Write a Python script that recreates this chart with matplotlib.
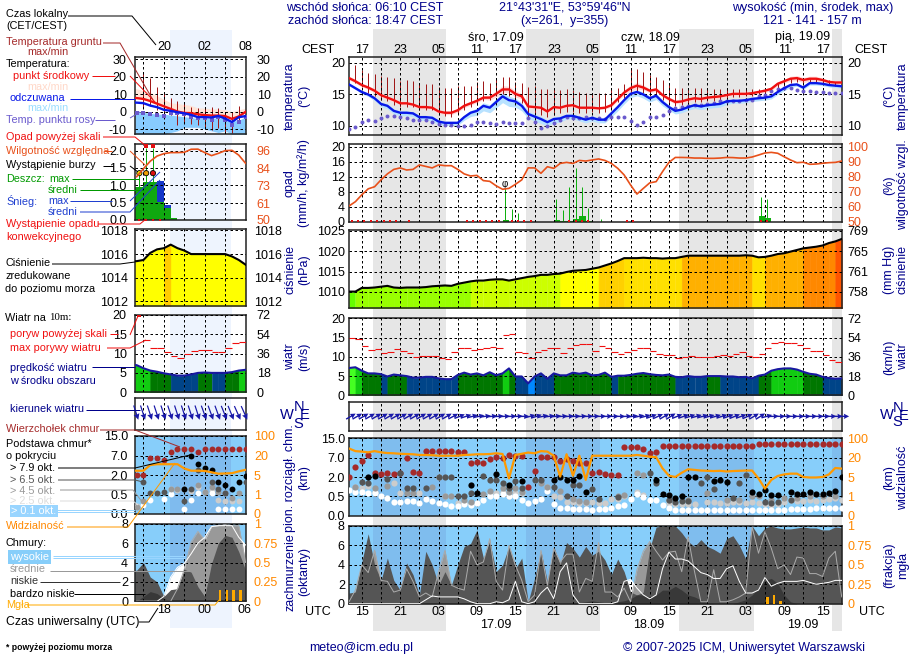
import numpy as np
import matplotlib
matplotlib.use("Agg")
import matplotlib.pyplot as plt

plt.rcParams['font.family'] = ['Liberation Sans', 'DejaVu Sans']
plt.rcParams['font.size'] = 9

W, H = 910, 660

# ---- main meteogram, one value per hour from 13 UTC 16.09
temp = [17.6,17.1,16.5,16.1,15.6,14.9,14.5,14.1,13.6,13.6,
        13.4,13.0,13.0,12.9,12.3,12.1,12.1,12.5,13.2,13.6,
        14.0,14.5,14.5,15.1,15.8,15.8,15.1,14.7,13.1,13.0,
        12.9,12.3,13.0,12.9,13.2,13.3,12.9,12.9,12.9,12.8,
        12.9,13.3,14.3,15.3,16.0,16.4,16.1,15.6,15.8,14.9,
        14.3,13.8,13.9,14.2,14.4,14.3,14.5,14.6,14.7,14.9,
        15.1,15.1,15.1,15.2,15.4,15.6,15.9,16.7,17.1,17.5,
        17.6,17.3,17.5,17.5,17.3,17.0,16.9,16.9]
feel = [16.6,16.0,15.4,15.0,14.4,13.5,13.2,12.4,12.1,12.1,
        12.0,11.4,11.4,11.3,10.7,10.5,10.5,10.5,11.4,12.1,
        12.4,13.2,12.9,13.8,14.7,14.1,13.9,13.2,11.9,11.5,
        11.1,10.6,11.1,11.2,11.6,11.6,11.3,11.0,11.3,11.0,
        11.0,12.0,13.0,14.1,15.1,15.4,15.0,14.4,14.8,13.8,
        13.0,12.4,12.6,13.0,13.3,13.1,13.3,13.4,13.5,13.9,
        14.0,14.0,14.1,14.3,14.4,14.5,14.7,15.4,16.0,16.5,
        16.6,16.1,16.8,16.8,16.7,16.5,16.4,16.3]
dew = [9.6,9.9,10.7,11.0,10.8,11.2,11.6,11.6,11.5,11.3,
       11.0,11.0,11.0,10.6,10.3,10.2,10.2,10.0,10.0,10.2,
       10.6,10.6,10.4,10.3,10.7,10.5,10.4,10.4,11.2,10.6,
       9.7,10.0,10.4,11.0,11.5,11.2,11.2,11.4,11.2,11.2,
       11.1,11.4,11.5,11.5,10.8,10.2,10.7,11.4,11.5,11.7,
       12.4,12.8,13.0,13.1,13.3,13.3,13.5,13.6,13.9,13.9,
       14.0,14.0,14.1,14.2,14.7,14.9,15.6,15.8,16.1,16.0,
       15.7,15.6,15.5,15.4,15.4,15.3,15.3,15.3]
ground_max = [17.6,19.6,18.9,18.4,18.3,17.9,17.7,17.6,17.2,17.3,
              17.1,16.7,16.7,16.6,16.2,16.1,16.1,16.3,16.3,16.3,
              17.0,17.2,16.8,17.4,17.7,17.7,17.0,16.8,16.2,16.3,
              15.8,15.8,15.8,15.7,15.8,15.7,15.4,15.3,15.3,15.2,
              15.3,15.8,16.0,16.7,19.0,19.0,18.5,18.1,17.8,17.3,
              16.8,16.1,16.1,16.1,16.1,16.0,15.8,15.8,15.8,15.8,
              15.8,15.8,15.8,15.8,15.8,15.8,16.0,16.8,17.3,17.6,
              17.8,17.6,17.5,17.5,17.5,17.3,17.0,17.0]
ground_min = [17.6,16.8,16.2,15.2,14.8,14.2,14.0,13.4,13.0,13.0,
              13.0,12.5,12.5,12.5,11.8,11.6,11.5,12.0,12.6,13.0,
              13.4,14.0,14.2,14.8,15.0,14.8,14.0,13.6,11.2,12.0,
              11.8,11.4,11.8,12.0,12.2,12.2,12.0,12.0,12.2,12.0,
              12.2,12.8,13.8,14.4,15.2,15.5,15.2,14.8,14.8,14.2,
              13.6,13.2,13.4,13.6,13.8,13.8,14.0,14.0,14.2,14.4,
              14.6,14.6,14.7,14.8,15.0,15.2,15.4,16.0,16.4,16.8,
              17.0,16.8,16.9,16.9,16.8,16.6,16.4,16.4]
temp_spread = [.3,.3,.3,.3,.3,.3,.3,.3,.3,.3,
               .3,.3,.3,.3,.3,.3,.3,.3,.3,.3,
               .3,.3,.4,.5,.6,.5,.5,.4,.3,.3,
               .3,.3,.3,.3,.3,.3,.2,.2,.2,.2,
               .2,.3,.3,.4,.5,.5,.4,.3,.3,.3,
               .3,.3,.3,.3,.3,.3,.3,.3,.3,.3,
               .3,.3,.3,.3,.3,.3,.3,.3,.3,.4,
               .4,.4,.4,.4,.3,.3,.3,.3]
feel_spread = [.2,.2,.3,.3,.4,.4,.5,.5,.5,.5,
               .5,.5,.5,.5,.5,.4,.4,.4,.5,.6,
               .7,.8,.8,.9,1.0,1.0,.9,.8,.7,.7,
               .7,.6,.6,.6,.5,.5,.5,.5,.5,.5,
               .5,.6,.6,.6,.6,.6,.6,.6,.6,.6,
               .5,.5,.5,.5,.5,.5,.5,.5,.5,.5,
               .4,.4,.4,.4,.4,.4,.4,.4,.4,.4,
               .3,.3,.3,.3,.3,.3,.3,.3]
humidity = [60.5,63.4,68,72,73.4,78,82,85,86,84.6,
            85,88,87,86,88,87.5,87.5,85,82,80.6,
            81,77.5,77,74,71.7,72.3,75,78,86,86,
            82.4,86.8,85.7,89,89.7,89,91,90.6,91.3,92,
            91,89,85.7,81.3,74.6,68.5,72.3,76,76.8,83.5,
            89.7,93,93,92.9,92.6,92.6,92.4,92.4,92.6,93,
            92.9,92.6,92.6,93.3,94.6,96,96.4,95.8,93.5,91.3,
            89.5,89.8,88.4,88.6,89.1,89.5,89.7,90.6]
precip_hours = [24,25,26,32,33,34,35,36,37,39,64,65]
precip_max = [8.9,3.3,2.2,6,3,9.2,14.5,9.2,3.6,.6,6.7,6]
precip_mean = [.4,0,0,.4,.3,.2,.7,1.5,.1,0,1.5,1]
convective_hours = [0,1,2,3,4,5,6,7,9,18,19,20,21,22,23,25,26,27,28,34,35,36,37,43,44,64,65]
pressure = [1010.1,1010.1,1011,1011,1011.1,1011.3,1011.5,1011.1,1011,1011.1,
            1011.1,1011.1,1011.2,1011.4,1011.5,1011.6,1011.5,1012,1012.3,1012.6,
            1012.8,1012.8,1013,1013.1,1013.1,1012.8,1013.1,1013.4,1013.7,1013.9,
            1014.2,1014.2,1014.4,1014.5,1014.9,1015.2,1015.3,1015.4,1015.7,1016,
            1016.5,1017,1017.6,1018.3,1018.3,1018.3,1018.4,1018.3,1018.3,1018.2,
            1018.3,1018.3,1018.6,1018.9,1018.9,1018.9,1018.9,1018.9,1018.9,1018.9,
            1018.9,1018.9,1019,1018.9,1018.5,1018.6,1018.9,1019.3,1019.5,1019.9,
            1020.3,1020.7,1020.9,1021.1,1021.4,1022,1022.4,1023]
pressure_bin = [0,1,1,1,1,1,1,1,1,1,1,1,1,1,1,1,1,1,1,2,2,2,2,2,2,2,2,2,2,2,2,2,2,
                3,3,3,3,3,3,4,4,4,4,5,5,5,5,5,5,5,5,5,6,6,6,6,6,6,6,6,6,6,6,5,5,
                6,6,6,6,6,6,7,7,7,7,7,8]
pressure_colors = ['#66ff00','#99ff00','#ccff00','#ffff00','#ffd000','#ffe000','#ffb000','#ff8800','#ff5500']
wind = [7.1,7.3,6.4,5.7,5.7,5.5,4.9,5.4,5.2,5.0,
        4.6,4.6,4.8,4.8,4.4,4.2,4.2,5.3,5.9,5.4,
        5.7,5.2,6.0,5.2,5.7,7.0,4.9,4.9,3.1,4.9,
        5.7,4.3,5.7,5.2,5.2,5.9,5.6,5.9,5.2,
        5.3,5.9,4.8,5.1,5.1,5.3,5.6,5.8,5.5,5.3,
        5.2,5.4,4.8,4.7,5,4.8,4.8,5,5,5,
        4.9,4.9,4.7,4.8,4.4,5.1,5.4,6.4,6.8,7,
        7,6.7,6.1,5.6,5.4,4.8,4.5,4.3,4.4]
wind_bin = [4,3,2,2,2,1,2,2,2,1,1,1,1,1,1,1,1,2,2,2,2,2,2,2,3,2,1,1,0,1,1,1,
            2,2,2,2,2,2,2,2,2,1,2,2,2,2,2,2,2,2,2,1,1,1,1,1,2,2,1,1,1,1,1,1,
            2,2,3,3,3,3,3,2,2,2,1,1,1]
wind_colors = ['#0088ff','#004488','#007700','#11cc11','#44ff22']
gust = [14.9,14.6,12.8,11.7,12,10.9,11.3,12,11.5,11,
        9.9,10.3,10.2,10.2,9.7,9.4,11.2,12.3,12.3,11.7,
        12,12.3,12.6,12.3,15.7,15.9,11.2,11,9.7,11.2,
        11.7,12.3,12.3,11,12.3,13,13.3,13.3,11.5,
        12.8,12.3,11.4,10.8,11.4,11.9,12.4,12.4,11.6,10.8,
        10.5,10.5,9.8,10,10.3,10.1,10.1,10.1,10.3,10.5,
        10.3,10.8,11.2,10.3,10.1,10.8,12.4,13.7,14,13.7,
        13.7,13.2,12.4,11.6,11.6,10.5,9.1,8.6]
wind_angle = [30,30,30,30,30,30,30,30,30,30,30,30,30,30,30,30,28,22,18,15,12,8,6,5,3,3,3,2,
              15,18,12,8,6,5,5,4,4,3,3,2,2,0,0,3,8,12,15,20,25,30,32,
              22,20,18,16,15,15,16,18,20,22,20,25,30,32,15,2,0,0,0,0,0,0,0,0,0,0,0]

cloud_top = [2,4.7,6.2,8.1,2.95,2.7,3.1,2.7,3.1,6.8,3.4,3.1,9.7,9.7,9.7,9.7,9.7,9.2,9.2,5.5,
             5.95,5.7,6.6,7.4,7,8.1,7.8,7.8,1.2,3.5,7.4,7.4,7.4,6.2,6.6,6.2,5.7,5.5,2.95,3.4,
             2.8,2.5,2.5,11.2,11.2,11.2,10.4,9.1,9.5,12,12,12,12,12,12,12,12,12,12,12,
             12,12,12,12,12.7,12.7,12.7,12.7,12.7,12.7,12.7,12.7,12.7,12.7,12.7,12.7,12.7,12.7]
base79_hours = [3,4,19,20,23,25,27,32,33,34,35,36,37,48,49,50,51,52,53,54,57,58,59,63,64,65,66,67,69,70,71,72,73,74,75,76,77]
base79 = [1.97,2.25,1.38,.79,2.7,1.38,1.7,1.8,2,1.8,1.8,2.35,.8,1.8,.68,.6,.47,.53,2,2,1.7,1.8,1.6,.8,.7,1,.6,.6,.8,.7,.7,.8,.7,.7,.73,.9,2]
base65_hours = [2,3,6,8,9,10,12,14,15,16,17,18,19,21,22,23,24,25,26,27,29,30,32,34,35,36,38,39,42,47,48,50,51,52,53,55,56,57,60,61,62,65,66,67,69]
base65 = [1.64,1.55,1.82,3,1.17,1.17,1.17,2,2,2,.55,.55,.73,2.25,1.8,1.77,1.55,1.17,1.7,1.17,1.8,1.77,1.25,.55,1.38,1.38,1.04,.43,.49,3,1.5,.4,.35,.38,.38,1.55,2,1.04,.45,1.5,2.5,.35,.32,.35,.41]
base45_hours = [1,4,6,9,10,13,15,16,18,19,21,22,24,25,26,27,30,31,33,35,36,37,42,43,45,46,50,53,56,59,61,63,64,66,68,70,72,74,76]
base45 = [1.25,1.12,1.3,.78,.78,1.22,.55,.51,.41,.36,.66,.95,1.12,.86,1.17,.86,1.5,1.25,.9,.42,.38,.36,.55,.6,3,2.5,.4,.41,.75,.4,.4,.5,.5,.4,.45,.45,.5,.5,.55]
base25_hours = [1,2,3,4,7,8,11,14,15,17,18,19,22,23,24,25,26,27,31,32,33,34,35,36,37,38,39,40,41,42,43,45,46,
                50,51,52,53,54,56,57,58,59,60,61,62,63,64,65,66,67,68,69,70,71,72,73,74,75,76,77]
base25 = [1.25,1.12,1.3,.86,1.5,.74,.74,2,.55,.34,.34,.29,.78,.74,.86,.53,.74,.74,1.25,.53,.49,.36,.36,.33,.33,.36,.34,.34,.43,.42,.5,.8,.6,
          .32,.3,.3,.3,.3,.36,.36,.34,.32,.36,.36,.34,.36,.34,.3,.28,.3,.36,.4,.38,.38,.4,.38,.4,.42,.45,.4]
base01 = [1.0,.86,.81,.78,.74,.55,.47,.36,.36,.38,.38,.34,.43,.38,.32,.31,.26,.25,.29,.28,
          .32,.41,.55,.55,.68,.51,.55,.41,.34,.38,.43,.95,.3,.21,.19,.17,.17,.17,.16,.17,
          .17,.19,.25,.28,.43,.66,.49,.41,.41,.28,.19,.16,.16,.16,.16,.16,.16,.16,.16,.16,
          .16,.16,.16,.16,.16,.14,.14,.15,.16,.18,.18,.18,.18,.19,.19,.19,.21,.21]
visibility = [58,47,45,42,47,42,39,38,36,35,34,31,31,30,28,28,28,28,31,32,
              34,34,35,38,35,4.7,31,36,41,38,47,45,28,5.3,34,6,28,4.4,28,28,
              28,28,28,28,28,31,28,24,22,11.7,6,5,8.3,11,10.5,10,9.8,9.6,9.8,9.3,
              9.6,9.8,10,10,4.7,2.6,4.4,5.8,7,7.6,7.6,5,4.9,4.9,5,7,12,11.5]
clouds_vlow = [0,0,0,0,0,0,0,0,0,0,0,0,0,0,0,0,0,0,0,0,0,0,0,0,0,0,0,0,0,0,0,0,0,0,0,0,
               .1,.2,.3,.2,.1,.1,.2,.3,.5,.9,.9,.7,.9,1.4,1.4,1.8,1.4,.9,.7,.4,.1,0,0,0,0,
               .2,.4,.9,1.6,2.4,2.6,2.1,.9,.2,0,0,0,0,0,0,0,0]
clouds_low = [1.1,1.2,4.3,7.2,4.0,2.4,4.7,2.4,1.4,4.2,3.0,.9,5.4,4.0,1.9,3.3,1.9,4.0,5.9,6.2,
              7.6,4.7,6.4,3.3,4.0,5.9,3.6,4.7,.2,2.6,5.4,2.3,5.9,4.0,6.3,5.7,4.8,5.9,5.0,5.4,
              4.5,3.0,4.6,3.3,1.2,.9,1.2,5.7,7.9,8,8,8,7.3,6.4,5.9,6.6,5.9,5.6,5.2,6.7,
              7,6,4.6,8,7,7.8,8,7.8,7.7,7.7,7.8,7.9,7.8,7.8,7.6,7.6,7.9,7.8]
clouds_mid = [.2,1.4,4.0,3.2,5.5,2.4,2.3,1.2,1.4,3.6,2.3,.7,1.1,.7,3.3,5.5,1.9,1.6,1.4,5.4,
              4.0,4.3,6.7,2.3,1.4,6.0,4.0,2.4,.2,.9,5.5,1.9,5.7,4.3,5.1,5.1,1.2,2.6,2.3,6.3,
              1.2,1.2,.7,1.6,.2,3.5,5.4,6.4,5.4,4.5,5.3,5.4,3.3,6.9,3.3,.2,.2,3.5,.2,.2,
              .4,.7,1.1,7.9,5.2,7.4,5.7,3.6,4,3,4.8,4.7,3.1,3.1,2.8,4.7,5.4,.7]
clouds_high = [0,0,0,0,0,0,0,0,0,0,0,0,.4,.8,.7,.7,.7,.7,.5,.2,
               0,0,0,.2,.1,.4,2.3,.2,0,.2,1.1,1.7,.5,3.3,4.2,.9,0,0,0,0,
               0,0,.2,2.3,2.5,1.6,.9,.5,.9,3.6,5.3,4.6,4.6,4.4,3.8,3.2,3,2.6,2.6,3.6,
               3.9,2.3,1.1,1.1,1.4,2.7,1.8,2.1,2.3,2.3,2.3,2.4,2.2,2,2.1,2.2,2.4,2.4]
fog_hours = [65,66,67]
fog = [.09,.11,.04]

# ---- small legend meteogram, from 14 UTC
l_temp = [7.7,7.2,6,4.5,3,1.5,0,-.8,-.9,-1.6,-2,-2.3,-2.3,-2.6,-4.2,-2.8,-.2]
l_temp_top = [13,12,11,9,7,5,4.5,4,3.5,2,2,1.5,1.5,1,0,1,2]
l_feel = [5.1,4.8,3.4,2.5,1,.4,-.4,-1,-1.9,-3.2,-3.2,-3.4,-2.5,-4,-6,-3.2,-2.6]
l_feel_top = [0,-.5,-1,-1.5,-1.5,-2,-2.5,-3,-3.5,-4,-4,-4,-3.5,-4,-5.5,-5,-3]
l_feel_low = [-13,-13,-13,-13,-13,-12,-11,-9,-9,-9,-10,-11,-12,-11,-13,-13,-13]
l_dew = [-1,-1,-1.3,-1.9,-2.3,-1,-1,-1.3,-2.9,-3.8,-3.8,-4.8,-2.9,-5.1,-7.6,-5.7,-3.2]
l_ground_max = [21.9,19,13.9,10.5,7.6,6.3,4.8,2.5,1.9,2.3,2.5,1.9,0,0,3.2]
l_ground_min = [1.9,2.9,1,-1,-1.9,-7.6,-5.7,-7,-7.6,-9.5,-10.5,-9.5,-12.4,-12,-6.7]
l_humidity = [78.7,84,89,92.4,94,94.7,94.7,94.9,96.9,97,94.7,92.7,94.2,96,96.2,93,87.6]
l_rain_hours = [-5,-4,-3,-2,-1,0,1]
l_rain_mean = [.96,.96,1.1,1.1,.53,.34,.05]
l_snow_hours = [-1,0]
l_snow_mean = [.58,.1]
l_rain_max_hours = [-4,-3,-2]
l_rain_max = [1.35,2.07,2.07]
l_storm_colors = ['#ffee00','#f0a000','#e01010']
l_convective_hours = [-4,-3,-2,-1]
l_pressure = [1015.4,1015.5,1016.1,1016.4,1016.5,1016.8,1016.5,1016.3,1016,1016,1016,1016,1016,1016,1015.8,1015.5,1015.1]
l_wind = [7,6.2,5.6,5.3,4.9,4.6,4.3,4.3,4.6,5,5.1,5,5,5,5.2,5.6,5.8]
l_wind_bin = [3,3,2,2,2,1,1,1,1,2,2,1,1,2,2,3]
l_gust_hours = [-3,-2,-1,0,1,2,3,4,5,6,7,8,9,10,11]
l_gust = [13.4,11.5,11.3,10.5,9.4,8.8,9.8,10.6,10.8,10.8,10.5,10.5,11.5,12.6,12.9]
l_wind_angle = [-72,-72,-72,-72,-72,-72,-72,-72,-72,-72,-70,-70,-70,-68,-68,-66,-66]
l_top = [2,2,6.3,6.3,5.85,8.6,9.6,9.6,9.6,8.6,9.6,9.6,9.6,9.6,9.6,9.6,9.6]
l79_hours = [3,4,5,6,7,8,9,10,11,12]
l79 = [.9,7,4.8,3.7,3.3,1.5,1.2,.9,1.5,1.95]
l65_hours = [-3,-2,-1,0,3,4,5,7,8,9,12]
l65 = [1.5,.64,.64,.7,.34,.9,3.4,1.5,.9,.64,1.5]
l45_hours = [-4,-3,1,2,3,5,6,7,8,9,10,11]
l45 = [.17,.34,.9,.9,.9,1.2,.7,1.1,.7,.6,.4,.64]
l25_hours = [-4,1,2,4,5,6,7,8,9,10,11]
l25 = [.2,.9,.85,.8,1.1,.7,.85,.35,.34,.34,.34]
l01_hours = [-3,-2,0,1,3,4,5,7,8,9,10,11]
l01 = [.23,.36,.38,.55,.12,.36,.58,.58,.12,.12,.12,.12]
l_visibility = [8.3,8.3,12.7,13.3,13.3,13.3,13.3,10,8.3,8.3,8.1,7.1,6,6.2,6.4,7.8,9]
l_vlow = [0,.5,1,.8,.3,0,0,0,0,0,0,0,0,0,0,0,0]
l_low = [3.2,4,2.5,2,.5,1.2,1.3,3.3,3,1.5,.5,3.9,6,6.8,6.6,5.1,3.2]
l_mid = [0,0,0,0,0,0,1.3,3.3,6.1,7.2,6.3,7.7,7.8,7.9,7.8,7.8,4]
l_high = [0,0,0,0,.5,2.5,3.5,3.9,4.9,6,6.6,7.7,7.8,7.8,7.8,6.6,5.8]
l_fog_hours = [8,9,10,11]
l_fog = [.15,.15,.15,.15]

hours = np.arange(len(temp))
l_hours = np.arange(-4, 13)
night_start = [3.75, 27.7, 51.6, 75.5]
night_end = [15.2, 39.2, 63.3, 77.1]
day_start, day_end = 0.88, 9.9

X0, X1 = 349, 841.7
LX0, LX1 = 135, 245.6
NAVY = '#00008b'
THIN = 0.72

fig = plt.figure(figsize=(W/100, H/100), dpi=100, facecolor='white')

def panel(left, top, right, bottom):
    return fig.add_axes([left/W, 1-bottom/H, (right-left)/W, (bottom-top)/H], zorder=2)

# background stripes that run through the gaps between panels
bg = fig.add_axes([0, 0, 1, 1], zorder=0)
bg.set_xlim(0, W); bg.set_ylim(H, 0); bg.axis('off')
for a, b in zip(night_start, night_end):
    bg.fill_between([X0+6.4*a, min(X0+6.4*b, X1)], 29, 631, color='#e6e6e6', lw=0)
bg.fill_between([170, 232], 30, 628, color='#eef4fe', lw=0)

def style(ax, xticks, ticks, labels, pad):
    ax.set_xticks(xticks)
    ax.set_xticklabels([])
    ax.set_yticks(ticks)
    ax.set_yticklabels(labels)
    ax.tick_params(length=0, pad=pad, labelsize=9)
    ax.grid(True, color='black', lw=THIN, ls=(0, (2.5, 2.5)))
    ax.set_axisbelow(False)
    for s in ax.spines.values():
        s.set_linewidth(1.1)
        s.set_color('#222222')

def right_axis(ax, ticks, labels, color='black', lim=None, pad=4):
    tw = ax.twinx()
    tw.set_ylim(lim if lim else ax.get_ylim())
    tw.set_yticks(ticks)
    tw.set_yticklabels(labels, color=color)
    tw.tick_params(length=0, pad=pad, labelsize=9)
    for s in tw.spines.values():
        s.set_visible(False)
    return tw

def shade(ax, color):
    for a, b in zip(night_start, night_end):
        ax.axvspan(a, b, color=color, lw=0, zorder=0)

def lshade(ax, color):
    ax.axvspan(day_start, day_end, color=color, lw=0, zorder=0)

def ext(y):
    return np.r_[y[0], y]

lx = np.r_[-4.3, l_hours]
main_xt = np.arange(2, 78, 3)
left_xt = np.arange(-3, 13, 3)

base_stops = [0, .5, 2, 7, 15]
vis_stops = [0, 1, 5, 20, 100]
idx = [0, 1, 2, 3, 4]
def base_f(v): return np.interp(v, base_stops, idx)
def base_i(v): return np.interp(v, idx, base_stops)
def vis_f(v): return np.interp(v, vis_stops, idx)
def vis_i(v): return np.interp(v, idx, vis_stops)

def draw_bases(ax, h_top, top, sets, ms):
    ax.scatter(h_top, top, s=ms, color='#a52a2a', lw=0, zorder=3)
    for hh, vv, col in sets:
        ax.scatter(hh, vv, s=ms, color=col, lw=0, zorder=3)

# hourly coloured slices under a line, with a hairline edge so no seams show
def slices(ax, xs, ys, floor, bins, colors):
    for i, b in enumerate(bins):
        ax.fill_between(xs[i:i+2], ys[i:i+2], floor, facecolor=colors[b], edgecolor=colors[b], lw=0.4, zorder=1)

# ---------------- main panels
# temperature
ax = panel(X0, 57.3, X1, 135)
ax.set_xlim(0, 77); ax.set_ylim(8.57, 20.9)
shade(ax, '#e6e6e6')
temp_a, feel_a = np.array(temp), np.array(feel)
ax.fill_between(hours, temp_a-np.array(temp_spread), temp_a+np.array(temp_spread), color='#ffd8d8', lw=0, zorder=1)
ax.fill_between(hours, feel_a-np.array(feel_spread), feel_a+np.array(feel_spread)*.6, color='#b8e2ff', lw=0, zorder=1)
ax.vlines(hours, ground_min, ground_max, color='#a01818', lw=THIN, zorder=2)
ax.scatter(hours, dew, s=8, color='#6a5acd', lw=0, zorder=3)
ax.plot(hours, temp, color='#f01010', lw=1.7, zorder=3)
ax.plot(hours, feel, color='#0818e8', lw=1.7, zorder=3)
style(ax, main_xt, [10, 15, 20], ['10', '15', '20'], 3)
right_axis(ax, [10, 15, 20], ['10', '15', '20'])

# precipitation and humidity
ax = panel(X0, 144, X1, 221.7)
ax.set_xlim(0, 77); ax.set_ylim(0, 20.8)
shade(ax, '#e6e6e6')
ph = np.array(precip_hours)
ax.bar(ph+.5, precip_mean, width=1, color='#10b010', lw=0, zorder=1)
ax.vlines(ph+.4, 0, precip_max, color='#10b010', lw=THIN, zorder=2)
ax.plot(np.array(convective_hours)+.4, [0.1]*len(convective_hours), ls='', marker='s', ms=2, mew=0, color='#e01010', clip_on=False, zorder=4)
ax.text(24.4, 10, 'φ', ha='center', va='center', fontsize=7, zorder=4)
style(ax, main_xt, [0, 4, 8, 12, 16, 20], ['0', '4', '8', '12', '16', '20'], 3)
tw = right_axis(ax, [50, 60, 70, 80, 90, 100], ['50', '60', '70', '80', '90', '100'], '#e8501a', lim=(50, 102))
tw.plot(hours, humidity, color='#e8501a', lw=1.2, zorder=3)

# pressure
ax = panel(X0, 230, X1, 308.3)
ax.set_xlim(0, 77); ax.set_ylim(1006, 1025.2)
shade(ax, '#e6e6e6')
slices(ax, hours, pressure, 1006, pressure_bin, pressure_colors)
ax.plot(hours, pressure, color='black', lw=1.5, zorder=3)
style(ax, main_xt, [1010, 1015, 1020, 1025], ['1010', '1015', '1020', '1025'], 3)
right_axis(ax, [1010, 1015, 1020, 1025], ['758', '761', '765', '769'])

# wind
ax = panel(X0, 317.7, X1, 395.3)
ax.set_xlim(0, 77); ax.set_ylim(0, 20.2)
shade(ax, '#e6e6e6')
slices(ax, hours, wind, 0, wind_bin, wind_colors)
ax.hlines(gust, hours[:-1], hours[1:], color='#f01010', lw=0.8, zorder=3)
ax.plot(hours, wind, color='#1818a0', lw=1.5, zorder=3)
style(ax, main_xt, [0, 5, 10, 15, 20], ['0', '5', '10', '15', '20'], 3)
right_axis(ax, [0, 5, 10, 15, 20], ['0', '18', '36', '54', '72'])

# wind direction
ax = panel(X0, 401.7, X1, 431)
ax.set_xlim(0, 77); ax.set_ylim(0, 1)
shade(ax, '#e6e6e6')
ang = np.radians(wind_angle)
ax.quiver(hours+.3, np.full(len(hours), .5), 11*np.cos(ang), 11*np.sin(ang), angles='uv', units='dots',
          scale_units='dots', scale=1, width=1.4, headwidth=3.8, headlength=3.8, headaxislength=3.4,
          color='#1818a8', pivot='middle', clip_on=False, zorder=3)
style(ax, main_xt, [], [], 3)
ax.grid(True, axis='x', color='black', lw=THIN, ls=(0, (2.5, 2.5)))

# cloud base
ax = panel(X0, 438.3, X1, 515.7)
ax.set_facecolor('#87cefa')
ax.set_xlim(0, 77)
ax.set_yscale('function', functions=(base_f, base_i))
ax.set_ylim(0, 15)
shade(ax, '#7fbdee')
draw_bases(ax, hours, cloud_top, [
    (base25_hours, base25, '#cccccc'), (hours, base01, 'white'), (base45_hours, base45, '#999999'),
    (base65_hours, base65, '#555555'), (base79_hours, base79, 'black')], 20)
style(ax, main_xt, [0, .5, 2, 7, 15], ['0.0', '0.5', '2.0', '7.0', '15.0'], 3)
ax.minorticks_off()
tw = ax.twinx()
tw.set_yscale('function', functions=(vis_f, vis_i))
tw.set_ylim(0, 100)
tw.set_yticks(vis_stops)
tw.set_yticklabels(['0', '1', '5', '20', '100'], color='#ff8800')
tw.minorticks_off()
tw.tick_params(length=0, pad=4, labelsize=9)
for s in tw.spines.values():
    s.set_visible(False)
tw.plot(hours, visibility, color='#ff9900', lw=1.6, zorder=3)

# cloud cover
ax = panel(X0, 526, X1, 603.7)
ax.set_facecolor('#87cefa')
ax.set_xlim(0, 77); ax.set_ylim(0, 8)
shade(ax, '#7fbdee')
ax.fill_between(hours, clouds_high, color='white', lw=0, zorder=1)
ax.fill_between(hours, clouds_mid, color='#999999', lw=0, zorder=1)
ax.fill_between(hours, clouds_low, color='#555555', lw=0, zorder=1)
ax.fill_between(hours, clouds_vlow, color='#383838', lw=0, zorder=1)
ax.plot(hours, clouds_mid, color='#aaaaaa', lw=THIN, zorder=3)
ax.plot(hours, clouds_high, color='white', lw=THIN, zorder=3)
ax.bar(np.array(fog_hours)+.4, np.array(fog)*8, width=.4, color='#ffaa00', lw=0, zorder=4)
style(ax, main_xt, [0, 2, 4, 6, 8], ['0', '2', '4', '6', '8'], 3)
right_axis(ax, [0, 2, 4, 6, 8], ['0', '0.25', '0.5', '0.75', '1'], '#ff8800')

# ---------------- legend panels
# temperature
ax = panel(LX0, 57.3, LX1, 134.3)
ax.set_xlim(-4.24, 11.95); ax.set_ylim(-13, 31)
lshade(ax, '#eef4fe')
ax.fill_between(lx, ext(l_feel_low), ext(l_feel_top), color='#88ccff', lw=0, zorder=1)
ax.fill_between(lx, ext(l_temp), ext(l_temp_top), color='#ffe4d8', lw=0, zorder=1)
ax.vlines(l_hours[1:16], l_ground_min, l_ground_max, color='#a01818', lw=THIN, zorder=2)
ax.scatter(l_hours, l_dew, s=8, marker='s', color='#6a5acd', lw=0, zorder=3)
ax.plot(lx, ext(l_temp), color='#f01010', lw=1.7, zorder=3)
ax.plot(lx, ext(l_feel), color='#0818e8', lw=1.7, zorder=3)
style(ax, left_xt, [-10, 0, 10, 20, 30], ['-10', '0', '10', '20', '30'], 6)
right_axis(ax, [-10, 0, 10, 20, 30], ['-10', '0', '10', '20', '30'], pad=8)

# precipitation
ax = panel(LX0, 144, LX1, 220)
ax.set_xlim(-4.24, 11.95); ax.set_ylim(0, 2.19)
lshade(ax, '#eef4fe')
lr = np.array(l_rain_hours)
ax.bar(lr+.5, l_rain_mean, width=1, color='#10a810', lw=0, zorder=1)
ax.bar(np.array(l_snow_hours)+.5, l_snow_mean, width=1, bottom=[.53, .34], color='#1838c8', lw=0, zorder=1)
lm = np.array(l_rain_max_hours)+.4
ax.vlines(lm, 0, l_rain_max, color='#10a810', lw=THIN, zorder=2)
ax.plot(lm[1:], [2.12, 2.12], ls='', marker='s', ms=2.4, mew=0, color='#e01010', zorder=4)
ax.scatter(lm, [1.35]*3, s=14, c=l_storm_colors, edgecolors='black', lw=.6, zorder=4)
ax.plot(np.array(l_convective_hours)+.4, [.01]*4, ls='', marker='s', ms=2, mew=0, color='#e01010', clip_on=False, zorder=4)
style(ax, left_xt, [0, .5, 1, 1.5, 2], ['0.0', '0.5', '1.0', '1.5', '2.0'], 6)
tw = right_axis(ax, [50, 61, 73, 84, 96], ['50', '61', '73', '84', '96'], '#e8501a', lim=(50, 100.4), pad=8)
tw.plot(l_hours, l_humidity, color='#e8501a', lw=1.2, zorder=3)

# pressure
ax = panel(LX0, 229.3, LX1, 306)
ax.set_xlim(-4.24, 11.95); ax.set_ylim(1011.6, 1018.1)
lshade(ax, '#eef4fe')
ax.fill_between(lx, ext(l_pressure), 1011.6, color='#ffff00', lw=0, zorder=1)
ax.fill_between(l_hours[4:6], l_pressure[4:6], 1011.6, color='#ffcc00', lw=0, zorder=1)
ax.plot(lx, ext(l_pressure), color='black', lw=1.5, zorder=3)
style(ax, left_xt, [1012, 1014, 1016, 1018], ['1012', '1014', '1016', '1018'], 5)
right_axis(ax, [1012, 1014, 1016, 1018], ['1012', '1014', '1016', '1018'], pad=6)

# wind
ax = panel(LX0, 314.7, LX1, 392.3)
ax.set_xlim(-4.24, 11.95); ax.set_ylim(0, 20)
lshade(ax, '#eef4fe')
slices(ax, lx[:2], ext(l_wind)[:2], 0, [3], wind_colors)
slices(ax, l_hours, l_wind, 0, l_wind_bin, wind_colors)
ax.hlines(l_gust, l_gust_hours, np.array(l_gust_hours)+1, color='#f01010', lw=0.8, zorder=3)
ax.plot([-3.6], [19.8], ls='', marker='s', ms=2.4, mew=0, color='#e01010', zorder=4)
ax.plot(lx, ext(l_wind), color='#1818a0', lw=1.5, zorder=3)
style(ax, left_xt, [0, 5, 10, 15, 20], ['0', '5', '10', '15', '20'], 6)
right_axis(ax, [0, 5, 10, 15, 20], ['0', '18', '36', '54', '72'], pad=8)

# wind direction
ax = panel(LX0, 398, LX1, 430)
ax.set_xlim(-4.24, 11.95); ax.set_ylim(0, 1)
lshade(ax, '#eef4fe')
ang = np.radians(l_wind_angle)
ax.quiver(l_hours+.25, np.full(len(l_hours), .32), 15*np.cos(ang), 15*np.sin(ang), angles='uv', units='dots',
          scale_units='dots', scale=1, width=1.2, headwidth=5, headlength=5, headaxislength=4.5,
          color='#1818a8', pivot='tip', clip_on=False, zorder=3)
style(ax, left_xt, [], [], 3)
ax.grid(True, axis='x', color='black', lw=THIN, ls=(0, (2.5, 2.5)))

# cloud base
ax = panel(LX0, 436, LX1, 514)
ax.set_facecolor('#87cefa')
ax.set_xlim(-4.24, 11.95)
ax.set_yscale('function', functions=(base_f, base_i))
ax.set_ylim(0, 15)
lshade(ax, '#7fbbee')
draw_bases(ax, l_hours, l_top, [
    (l25_hours, l25, '#cccccc'), (l01_hours, l01, 'white'), (l45_hours, l45, '#999999'),
    (l65_hours, l65, '#555555'), (l79_hours, l79, 'black')], 18)
style(ax, left_xt, [0, .5, 2, 7, 15], ['0.0', '0.5', '2.0', '7.0', '15.0'], 5)
ax.minorticks_off()
tw = ax.twinx()
tw.set_yscale('function', functions=(vis_f, vis_i))
tw.set_ylim(0, 100)
tw.set_yticks(vis_stops)
tw.set_yticklabels(['0', '1', '5', '20', '100'], color='#ff8800')
tw.minorticks_off()
tw.tick_params(length=0, pad=6, labelsize=9)
for s in tw.spines.values():
    s.set_visible(False)
tw.plot(lx, ext(l_visibility), color='#ff9900', lw=1.6, zorder=3)

# cloud cover
ax = panel(LX0, 523.7, LX1, 601.3)
ax.set_facecolor('#87cefa')
ax.set_xlim(-4.24, 11.95); ax.set_ylim(0, 8)
lshade(ax, '#7fbbee')
ax.fill_between(lx, ext(l_high), color='white', lw=0, zorder=1)
ax.fill_between(lx, ext(l_mid), color='#999999', lw=0, zorder=1)
ax.fill_between(lx, ext(l_low), color='#555555', lw=0, zorder=1)
ax.fill_between(lx, ext(l_vlow), color='#383838', lw=0, zorder=1)
ax.plot(l_hours, l_mid, color='#aaaaaa', lw=THIN, zorder=3)
ax.plot(l_hours, l_high, color='white', lw=THIN, zorder=3)
ax.bar(np.array(l_fog_hours)+.25, np.array(l_fog)*8, width=.4, color='#ffaa00', lw=0, zorder=4)
style(ax, left_xt, [0, 2, 4, 6, 8], ['0', '2', '4', '6', '8'], 5)
right_axis(ax, [0, 2, 4, 6, 8], ['0', '0.25', '0.5', '0.75', '1'], '#ff8800', pad=6)

# ---------------- texts and leader lines, all in picture pixels
ov = fig.add_axes([0, 0, 1, 1], zorder=5)
ov.set_xlim(0, W); ov.set_ylim(H, 0); ov.axis('off')
ov.patch.set_alpha(0)

text_size = 7.8

def T(x, y, s, color='black', ha='left', size=None, **kw):
    ov.text(x, y, s, color=color, ha=ha, va='center', fontsize=size or text_size, **kw)

def L(color, *pts, lw=THIN):
    xs, ys = zip(*pts)
    ov.plot(xs, ys, color=color, lw=lw, solid_capstyle='butt')

DARKRED = '#a52a2a'
GREEN = '#009900'
BLUE = '#2040d0'
PURPLE = '#6a5acd'
ORANGE = '#ff8800'

T(6, 14, 'Czas lokalny'); T(6, 26, '(CET/CEST)')
L('black', (68, 16), (132, 16), (156, 45))
T(6, 42, 'Temperatura gruntu', DARKRED); T(27, 52, 'max/min', DARKRED)
L(DARKRED, (103, 43), (120, 43), (153, 100))
T(6, 64, 'Temperatura:')
T(13, 76, 'punkt środkowy', '#f01010')
L('#f01010', (92, 76), (115, 76)); L('#f01010', (130, 76), (155, 102))
T(27, 87, 'max/min', '#ffd8c8')
T(10, 98, 'odczuwana', '#0818e8')
L('#0818e8', (70, 99), (135, 99))
T(27, 108, 'max/min', '#99ddff')
T(6, 120, 'Temp. punktu rosy', PURPLE)
L(PURPLE, (95, 120), (115, 120)); L(PURPLE, (130, 118), (140, 112))
T(6, 137, 'Opad powyżej skali', '#f01010')
L('#f01010', (103, 137), (135, 137), (146, 146))
T(6, 151, 'Wilgotność względna', '#e8501a')
L('#e8501a', (104, 151), (112, 151)); L('#e8501a', (130, 151), (145, 165))
T(6, 165, 'Wystąpienie burzy')
L('black', (103, 166), (113, 166)); L('black', (130, 166), (138, 172))
T(6, 179, 'Deszcz:', GREEN); T(49, 179, 'max', GREEN)
L(GREEN, (72, 179), (139, 179))
T(48, 190, 'średni', GREEN)
L(GREEN, (80, 190), (143, 190))
T(6, 201, 'Śnieg:', BLUE); T(48, 201, 'max', BLUE)
L(BLUE, (70, 201), (112, 201)); L(BLUE, (130, 201), (160, 172))
T(48, 212, 'średni', BLUE)
L(BLUE, (80, 212), (130, 212), (160, 180))
T(6, 224, 'Wystąpienie opadu', '#f01010'); T(6, 237, 'konwekcyjnego', '#f01010')
L('#f01010', (98, 224), (140, 224), (146, 219))
T(5, 263, 'Ciśnienie'); T(5, 276, 'zredukowane'); T(5, 289, 'do poziomu morza')
L('black', (52, 264), (120, 264), (135, 262))
T(5, 318, 'Wiatr na'); T(49, 318, '10m:', family='Liberation Serif')
T(10, 334, 'poryw powyżej skali', '#f01010')
L('#f01010', (110, 334), (118, 334)); L('#f01010', (130, 335), (138, 316))
T(10, 348, 'max porywy wiatru', '#f01010')
L('#f01010', (107, 348), (130, 348), (146, 340))
T(10, 368, 'prędkość wiatru', NAVY); T(10, 381, 'w środku obszaru', NAVY)
L(NAVY, (92, 367), (135, 367))
T(10, 409, 'kierunek wiatru', NAVY)
L(NAVY, (86, 410), (140, 410))
T(6, 429, 'Wierzchołek chmur', DARKRED)
L(DARKRED, (100, 430), (135, 430), (180, 447))
T(6, 444, 'Podstawa chmur*'); T(6, 456, 'o pokryciu')
T(10, 468, '> 7.9 okt.')
L('black', (58, 468), (135, 468), (190, 455))
T(10, 480, '> 6.5 okt.', '#555555')
L('#555555', (58, 480), (135, 480), (143, 482))
T(10, 491, '> 4.5 okt.', '#999999')
L('#999999', (60, 490), (133, 490), (143, 503))
T(10, 501, '> 2.5 okt.', '#dddddd')
L('#dddddd', (60, 501), (133, 501), (138, 505))
T(11, 511, '> 0.1 okt.', 'white', bbox=dict(facecolor='#99d5ff', edgecolor='none', pad=1))
L('#99d5ff', (57, 510), (135, 510)); L('#99d5ff', (57, 512), (135, 512))
T(6, 526, 'Widzialność', ORANGE)
L('#ff9900', (67, 527), (128, 527), (175, 463))
T(6, 543, 'Chmury:')
T(10, 557, 'wysokie', 'white', bbox=dict(facecolor='#87cefa', edgecolor='none', pad=1.5))
L('#99d5ff', (53, 556), (185, 556)); L('#99d5ff', (53, 558), (185, 558))
T(10, 569, 'średnie', '#999999')
L('#999999', (50, 571), (192, 571))
T(10, 581, 'niskie', '#333333')
L('#333333', (40, 582), (120, 582)); L('#333333', (130, 582), (135, 582))
T(10, 594, 'bardzo niskie')
L('black', (74, 594), (145, 594))
T(6, 605, 'Mgła', '#ffaa00')
L('#ffaa00', (27, 605), (215, 605), (219, 600))
T(6, 622, 'Czas uniwersalny (UTC)', size=8.8)
L('black', (139, 622), (149, 622), (158, 608))
T(6, 648, '* powyżej poziomu morza', size=6.2, weight='bold')

# header
text_size = 9
T(286, 8, 'wschód słońca: 06:10 CEST', NAVY)
T(288, 21, 'zachód słońca: 18:47 CEST', NAVY)
T(565, 8, '21°43\'31"E, 53°59\'46"N', NAVY, ha='center')
T(565, 21, '(x=261,  y=355)', NAVY, ha='center')
T(813, 8, 'wysokość (min, środek, max)', NAVY, ha='center')
T(812, 21, '121 - 141 - 157 m', NAVY, ha='center')
for x, s in zip([496, 650, 803], ['śro, 17.09', 'czw, 18.09', 'pią, 19.09']):
    T(x, 37, s, ha='center')
T(318, 50, 'CEST', ha='center'); T(871, 50, 'CEST', ha='center')
T(318, 612, 'UTC', ha='center'); T(872, 612, 'UTC', ha='center')

local_labels = ['17', '23', '05', '11', '17', '23', '05', '11', '17', '23', '05', '11', '17']
utc_labels = ['15', '21', '03', '09', '15', '21', '03', '09', '15', '21', '03', '09', '15']
for i, (a, b) in enumerate(zip(local_labels, utc_labels)):
    x = X0 + 6.4*(2+6*i)
    T(x, 50, a, ha='center')
    T(x, 612, b, ha='center')
for x, a, b in zip([164, 204, 245], ['20', '02', '08'], ['18', '00', '06']):
    T(x, 47, a, ha='center')
    T(x, 610, b, ha='center')
for x, s in zip([496, 649, 803], ['17.09', '18.09', '19.09']):
    T(x, 625, s, ha='center')

T(309, 648, 'meteo@icm.edu.pl', NAVY)
T(623, 648, '© 2007-2025 ICM, Uniwersytet Warszawski', NAVY)

# axis titles
def V(x, y, s):
    ov.text(x, y, s, color=NAVY, rotation=90, ha='center', va='center', fontsize=9)

left_titles = [(96, 'temperatura', '(°C)'), (183, 'opad', '(mm/h, kg/m²/h)'), (270, 'ciśnienie', '(hPa)'),
               (357, 'wiatr', '(m/s)'), (478, 'pion. rozciągł. chm.', '(km)'), (572, 'zachmurzenie', '(oktanty)')]
right_titles = [(96, '(°C)', 'temperatura'), (185, '(%)', 'wilgotność wzgl.'), (270, '(mm Hg)', 'ciśnienie'),
                (357, '(km/h)', 'wiatr'), (478, '(km)', 'widzialność'), (565, '(frakcja)', 'mgła')]
for y, a, b in left_titles:
    V(290, y, a); V(304, y, b)
for y, a, b in right_titles:
    V(889, y, a); V(903, y, b)

for w, n, e, s in [((287, 415), (299, 407), (305, 415), (298, 424)),
                   ((887, 415), (898, 408), (904, 416), (897, 422))]:
    T(w[0], w[1], 'W', NAVY, ha='center', size=10.5)
    T(n[0], n[1], 'N', NAVY, ha='center', size=10.5)
    T(e[0], e[1], 'E', NAVY, ha='center', size=10.5)
    T(s[0], s[1], 'S', NAVY, ha='center', size=10.5)

fig.savefig('out.png', dpi=100)
